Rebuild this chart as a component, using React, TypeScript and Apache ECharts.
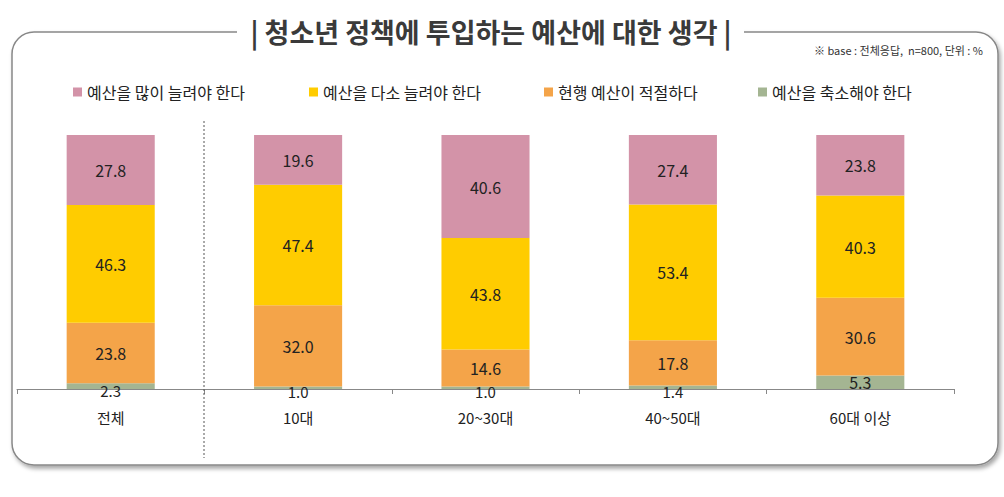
import React, { useEffect, useRef } from "react";
import * as echarts from "echarts";

const categories = ["전체", "10대", "20~30대", "40~50대", "60대 이상"];
const seriesNames = ["예산을 많이 늘려야 한다", "예산을 다소 늘려야 한다", "현행 예산이 적절하다", "예산을 축소해야 한다"];
const muchMore = [27.8, 19.6, 40.6, 27.4, 23.8];
const someMore = [46.3, 47.4, 43.8, 53.4, 40.3];
const adequate = [23.8, 32.0, 14.6, 17.8, 30.6];
const reduce = [2.3, 1.0, 1.0, 1.4, 5.3];
const colors = ["#D393A8", "#FFCC00", "#F4A449", "#A4B592"];
const legendLefts = [68, 304, 539, 753];

const FONT = "'Noto Sans CJK KR', 'Noto Sans', sans-serif";

export default function App() {
  const ref = useRef<HTMLDivElement>(null);
  useEffect(() => {
    if (!ref.current) return;
    const chart = echarts.init(ref.current, undefined, { renderer: "svg" });
    const stackOrder = [reduce, adequate, someMore, muchMore];
    const orderIdx = [3, 2, 1, 0];
    const series = stackOrder.map((data, i) => ({
      name: seriesNames[orderIdx[i]],
      type: "bar",
      stack: "total",
      barWidth: "47%",
      data: data.map((v) =>
        v < 3
          ? { value: v, label: { offset: [0, 4], fontSize: 15, lineHeight: 15 } }
          : { value: v }
      ),
      itemStyle: { color: colors[orderIdx[i]] },
      label: {
        show: true,
        position: "inside",
        formatter: (p: any) => Number(p.value).toFixed(1),
        color: "#222",
        fontSize: 16,
        lineHeight: 16,
        fontFamily: FONT,
      },
    }));
    chart.setOption({
      animation: false,
      textStyle: { fontFamily: FONT },
      grid: { left: 17, right: 50, top: 135, bottom: 108, containLabel: false },
      legend: seriesNames.map((n, i) => ({
        data: [n],
        left: legendLefts[i],
        top: 79,
        itemWidth: 9,
        itemHeight: 9,
        icon: "rect",
        itemGap: 6,
        textStyle: { fontSize: 16, color: "#222", fontFamily: FONT },
      })),
      xAxis: {
        type: "category",
        data: categories,
        axisLine: { lineStyle: { color: "#888" } },
        axisTick: { show: true, length: 5, lineStyle: { color: "#888" } },
        axisLabel: { color: "#222", fontSize: 15, margin: 21, fontFamily: FONT },
      },
      yAxis: {
        type: "value",
        min: 0,
        max: 100,
        show: false,
      },
      color: colors,
      series,
      graphic: [
        {
          type: "rect",
          z: -10,
          shape: { x: 12, y: 32, width: 986, height: 433, r: 22 },
          style: {
            fill: "#fff",
            stroke: "#888",
            lineWidth: 1.5,
            shadowBlur: 4,
            shadowOffsetX: 2,
            shadowOffsetY: 3,
            shadowColor: "rgba(0,0,0,0.35)",
          },
        },
        {
          type: "rect",
          z: -9,
          shape: { x: 237, y: 18, width: 507, height: 28 },
          style: { fill: "#fff" },
        },
        {
          type: "text",
          z: 10,
          x: 491,
          y: 31,
          style: {
            text: "| 청소년 정책에 투입하는 예산에 대한 생각 |",
            fill: "#3a3a3a",
            font: "bold 27px 'Noto Sans CJK KR', sans-serif",
            textAlign: "center",
            textVerticalAlign: "middle",
          },
        },
        {
          type: "text",
          z: 10,
          x: 983,
          y: 50,
          style: {
            text: "※ base : 전체응답,  n=800, 단위 : %",
            fill: "#333",
            font: "11px 'Noto Sans CJK KR', sans-serif",
            textAlign: "right",
            textVerticalAlign: "middle",
          },
        },
        {
          type: "line",
          z: 10,
          shape: { x1: 204, y1: 121, x2: 204, y2: 458 },
          style: { stroke: "#555", lineWidth: 1, lineDash: [2, 2] },
        },
      ],
    });
    return () => chart.dispose();
  }, []);
  return (
    <div style={{ position: "absolute", left: 0, top: 0, width: 1004, height: 497, background: "#fff" }}>
      <div ref={ref} style={{ width: 1004, height: 497 }} />
    </div>
  );
}
